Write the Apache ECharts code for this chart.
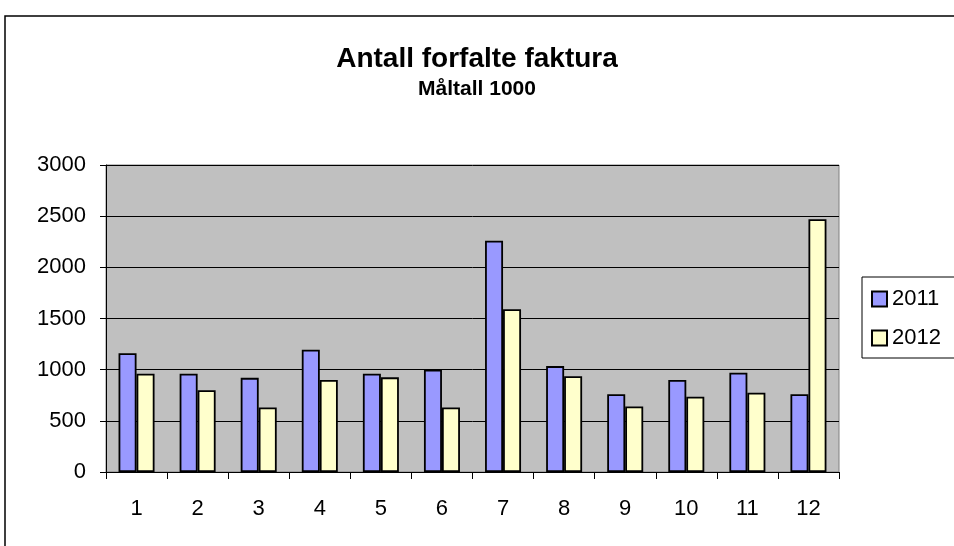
<!DOCTYPE html>
<html>
<head>
<meta charset="utf-8">
<script src="https://cdn.jsdelivr.net/npm/echarts@6/dist/echarts.min.js"></script>
<style>
  html, body { margin: 0; padding: 0; background: #fff; }
  #chart { width: 954px; height: 546px; }
</style>
</head>
<body>
<div id="chart"></div>
<script>
// månedene
const months = ['1', '2', '3', '4', '5', '6', '7', '8', '9', '10', '11', '12']
const values2011 = [1160, 960, 920, 1195, 960, 1000, 2260, 1035, 760, 900, 970, 760]
const values2012 = [960, 800, 630, 900, 925, 630, 1590, 935, 640, 735, 775, 2470]
const yTicks = [0, 500, 1000, 1500, 2000, 2500, 3000]

const chart = echarts.init(document.getElementById('chart'))
const font = 'Liberation Sans, Arial, sans-serif'

const option = {
  animation: false,
  textStyle: { fontFamily: font },
  title: {
    text: 'Antall forfalte faktura',
    subtext: 'Måltall 1000',
    left: 'center',
    top: 40,
    itemGap: 6,
    textStyle: { fontSize: 28, fontWeight: 'bold', color: '#000', fontFamily: font },
    subtextStyle: { fontSize: 21, fontWeight: 'bold', color: '#000', fontFamily: font }
  },
  graphic: [{
    type: 'rect',
    shape: { x: 5, y: 16, width: 1000, height: 600 },
    style: { fill: 'none', stroke: '#000', lineWidth: 1.5 },
    silent: true
  }],
  legend: {
    orient: 'vertical',
    left: 862,
    top: 277,
    padding: [11, 40, 9, 9],
    borderColor: '#000',
    borderWidth: 1,
    itemWidth: 15,
    itemHeight: 15,
    itemGap: 17,
    icon: 'rect',
    textStyle: { fontSize: 22, color: '#000', fontFamily: font },
    data: ['2011', '2012']
  },
  grid: {
    left: 106,
    right: 115,
    top: 165,
    bottom: 74,
    show: true,
    backgroundColor: '#c0c0c0',
    borderColor: '#808080',
    borderWidth: 1
  },
  xAxis: {
    type: 'category',
    data: months,
    axisLine: { lineStyle: { color: '#000', width: 1 } },
    axisTick: { show: true, length: 7, lineStyle: { color: '#000' } },
    axisLabel: { fontSize: 22, color: '#000', margin: 26, fontFamily: font }
  },
  yAxis: {
    type: 'value',
    min: yTicks[0],
    max: yTicks[yTicks.length - 1],
    interval: 500,
    axisLine: { show: true, lineStyle: { color: '#000', width: 1 } },
    axisTick: { show: true, length: 6, lineStyle: { color: '#000' } },
    axisLabel: { fontSize: 22, color: '#000', margin: 20, fontFamily: font, formatter: v => String(v) },
    splitLine: { show: true, lineStyle: { color: '#000', width: 1 } }
  },
  series: [
    {
      name: '2011',
      type: 'bar',
      data: values2011,
      barWidth: 18,
      barGap: '0%',
      itemStyle: { color: '#9999ff', borderColor: '#000', borderWidth: 1.8 }
    },
    {
      name: '2012',
      type: 'bar',
      data: values2012,
      barWidth: 18,
      barGap: '0%',
      itemStyle: { color: '#ffffcc', borderColor: '#000', borderWidth: 1.8 }
    }
  ]
}

chart.setOption(option)
</script>
</body>
</html>
